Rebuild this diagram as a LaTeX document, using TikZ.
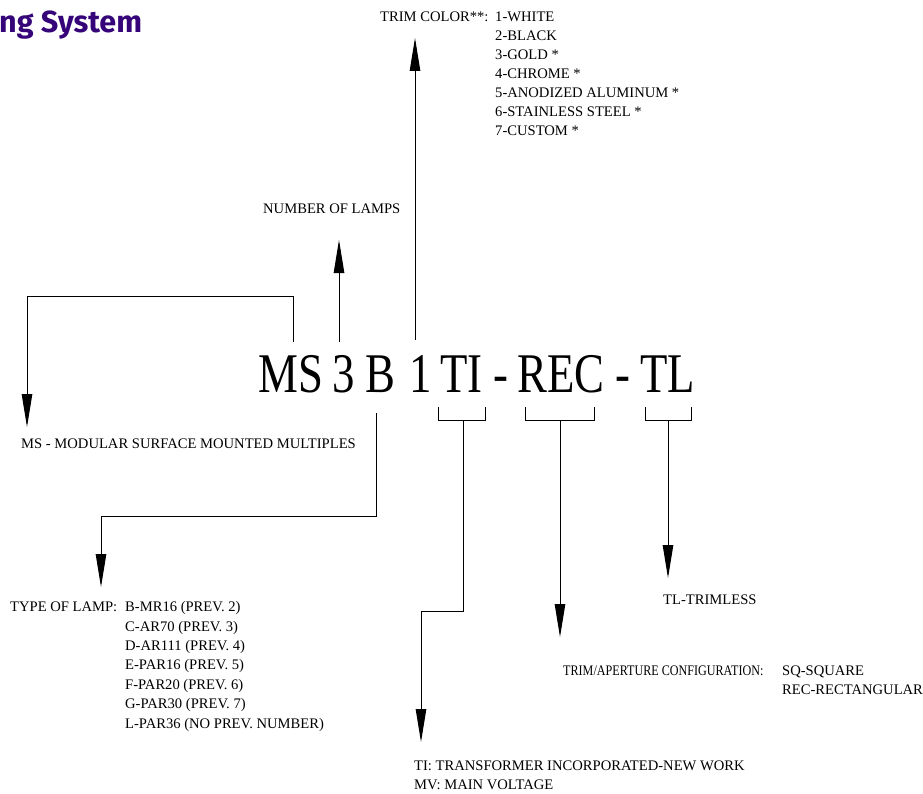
\documentclass[tikz,border=0pt]{standalone}
\usepackage{fontspec}
\usepackage{graphicx}
\setmainfont{Liberation Serif}
\newfontfamily\titlefont{Fira Sans}
\usetikzlibrary{arrows.meta}
\definecolor{titlepurple}{RGB}{52,4,120}
\begin{document}
\begin{tikzpicture}[x=1pt,y=-1pt,
  lbl/.style={anchor=base west, inner sep=0pt, font=\fontsize{14.6}{17}\selectfont},
  big/.style={anchor=base west, inner sep=0pt, font=\fontsize{56}{60}\selectfont},
  conn/.style={line width=1pt, black},
  arr/.style={conn, -{Triangle[length=33pt,width=10.5pt]}},
]
\useasboundingbox (0,0) rectangle (923,794);

% title
\node[anchor=base west, inner sep=0pt, text=titlepurple,
      font={\titlefont\bfseries\fontsize{30.5}{34}\selectfont}] (title) at (-1,33) {ng System};

% big code
\node[big] (ms)   at (258,392) {\scalebox{0.8}[1]{MS}};
\node[big] (num)  at (332,392) {\scalebox{0.8}[1]{3}};
\node[big] (lamp) at (365,392) {\scalebox{0.8}[1]{B}};
\node[big] (one)  at (409,392) {\scalebox{0.8}[1]{1}};
\node[big] (ti)   at (440,392) {\scalebox{0.8}[1]{TI}};
\node[big] (d1)   at (493,392) {\scalebox{0.8}[1]{-}};
\node[big] (rec)  at (517,392) {\scalebox{0.8}[1]{REC}};
\node[big] (d2)   at (615,392) {\scalebox{0.8}[1]{-}};
\node[big] (tl)   at (640,392) {\scalebox{0.8}[1]{TL}};

% labels
\node[lbl] (trimcolor) at (380,21.7) {TRIM COLOR**:};
\foreach \t [count=\i from 0] in {1-WHITE,2-BLACK,3-GOLD *,4-CHROME *,5-ANODIZED ALUMINUM *,6-STAINLESS STEEL *,7-CUSTOM *}
  \node[lbl] (tc\i) at (495,21.7+18.9*\i) {\t};

\node[lbl] (numlbl) at (263,214) {NUMBER OF LAMPS};
\node[lbl] (msdesc) at (21,448) {MS - MODULAR SURFACE MOUNTED MULTIPLES};

\node[lbl] (lamplbl) at (10,611.7) {TYPE OF LAMP:};
\foreach \t [count=\i from 0] in {B-MR16 (PREV. 2),C-AR70 (PREV. 3),D-AR111 (PREV. 4),E-PAR16 (PREV. 5),F-PAR20 (PREV. 6),G-PAR30 (PREV. 7),L-PAR36 (NO PREV. NUMBER)}
  \node[lbl] (lt\i) at (125,611.7+19.4*\i) {\t};

\node[lbl] (tl1) at (414,770) {TI: TRANSFORMER INCORPORATED-NEW WORK};
\node[lbl] (tl2) at (414,789) {MV: MAIN VOLTAGE};

\node[lbl] (aplbl) at (563,675) {\scalebox{0.83}[1]{TRIM/APERTURE CONFIGURATION:}};
\node[lbl] (ap1) at (782,675) {SQ-SQUARE};
\node[lbl] (ap2) at (782,694) {REC-RECTANGULAR};

\node[lbl] (tllbl) at (663,604) {TL-TRIMLESS};

% connector points
\coordinate (msA) at (293,342);
\coordinate (msB) at (293,296);
\coordinate (msC) at (27,296);
\coordinate (msD) at (27,427);
\coordinate (numA) at (339,342);
\coordinate (numB) at (339,240);
\coordinate (trA) at (415,340);
\coordinate (trB) at (415,38);
\coordinate (bA) at (376,413);
\coordinate (bB) at (376,516);
\coordinate (bC) at (101,516);
\coordinate (bD) at (101,587);
\coordinate (tiL) at (438,407);
\coordinate (tiR) at (485,407);
\coordinate (tiS) at (463,420);
\coordinate (tiB) at (463,611);
\coordinate (tiC) at (421,611);
\coordinate (tiD) at (421,742);
\coordinate (recL) at (525,407);
\coordinate (recR) at (594,407);
\coordinate (recS) at (560,420);
\coordinate (recD) at (560,637);
\coordinate (tlL) at (645,407);
\coordinate (tlR) at (691,407);
\coordinate (tlS) at (668,420);
\coordinate (tlD) at (668,578);

% connectors
\draw[arr] (msA) -- (msB) -- (msC) -- (msD);
\draw[arr] (numA) -- (numB);
\draw[arr] (trA) -- (trB);
\draw[arr] (bA) -- (bB) -- (bC) -- (bD);

\draw[conn] (tiL) -- (tiL |- tiS) -- (tiR |- tiS) -- (tiR);
\draw[arr] (tiS) -- (tiB) -- (tiC) -- (tiD);

\draw[conn] (recL) -- (recL |- recS) -- (recR |- recS) -- (recR);
\draw[arr] (recS) -- (recD);

\draw[conn] (tlL) -- (tlL |- tlS) -- (tlR |- tlS) -- (tlR);
\draw[arr] (tlS) -- (tlD);
\end{tikzpicture}
\end{document}
